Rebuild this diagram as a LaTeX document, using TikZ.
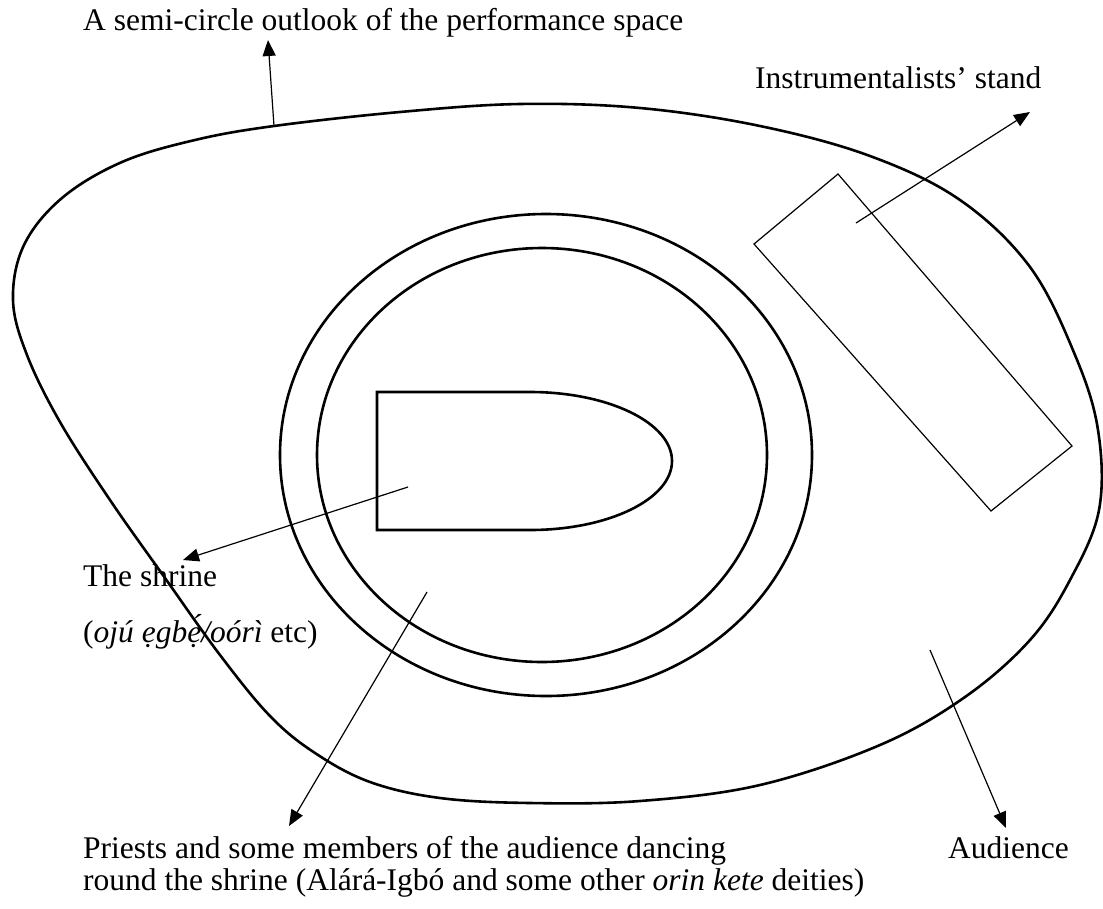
\documentclass[tikz,border=0pt]{standalone}
\usepackage{fontspec}
\setmainfont{Liberation Serif}
\usetikzlibrary{arrows.meta, positioning}
\definecolor{inkblack}{RGB}{0,0,0}
\tikzset{
  wall/.style={draw=inkblack, line width=2.6pt},
  standbox/.style={draw=inkblack, line width=1.2pt},
  pointer/.style={-{Triangle[length=16pt,width=13pt]}, line width=1.2pt, color=inkblack},
  caption/.style={anchor=base west, inner sep=0pt, align=left,
    font=\fontsize{31.5}{32}\selectfont}
}

\begin{document}
\begin{tikzpicture}[x=1pt, y=-1pt]
  \useasboundingbox (0,0) rectangle (1103,908);

  % outline of the performance space
  \draw[wall] plot[smooth cycle, tension=0.6] coordinates {
    (274,126) (400,112) (520,104) (640,108) (760,126) (870,156)
    (960,200) (1030,267) (1075,355) (1098,430) (1099,510) (1070,580)
    (1030,640) (965,697) (880,745) (760,785) (640,801) (530,803)
    (440,798) (370,782) (315,753) (270,716) (220,655) (165,578)
    (110,500) (60,422) (27,355) (13,300) (24,245) (62,198)
    (122,162) (195,140)};

  % dancing rings
  \draw[wall] (546,455) ellipse [x radius=266, y radius=241];
  \draw[wall] (542,455) ellipse [x radius=225, y radius=207];

  % shrine
  \draw[wall] (377,392) -- (530,392)
    arc[start angle=-90, end angle=90, x radius=142, y radius=69]
    -- (377,530) -- cycle;

  % instrumentalists' stand
  \draw[standbox] (838,174) -- (1072,446) -- (991,511) -- (754,244) -- cycle;

  % labels
  \node[caption] (title) at (83,30) {A semi-circle outlook of the performance space};
  \node[caption] (standlabel) at (755,88) {Instrumentalists’ stand};
  \node[caption] (shrinelabel) at (83,586) {The shrine};
  \node[caption, below=56pt of shrinelabel.base west, anchor=base west] (shrinenote)
    {(\textit{ojú ẹgbẹ́/oórì} etc)};
  \node[caption] (dancelabel) at (83,890) {Priests and some members of the audience dancing\\
    round the shrine (Alárá-Igbó and some other \textit{orin kete} deities)};
  \node[caption] (audiencelabel) at (948,858) {Audience};

  % pointers
  \coordinate (outlookpt) at (274,126);
  \coordinate (outlooktip) at (268,40);
  \coordinate (standpt) at (856,223);
  \coordinate (standtip) at (1030,112);
  \coordinate (shrinept) at (408,487);
  \coordinate (shrinetip) at (183,560);
  \coordinate (dancept) at (427,592);
  \coordinate (dancetip) at (289,826);
  \coordinate (audiencept) at (930,650);
  \coordinate (audiencetip) at (1006,828);

  \draw[pointer] (outlookpt) -- (outlooktip);
  \draw[pointer] (standpt) -- (standtip);
  \draw[pointer] (shrinept) -- (shrinetip);
  \draw[pointer] (dancept) -- (dancetip);
  \draw[pointer] (audiencept) -- (audiencetip);
\end{tikzpicture}
\end{document}
